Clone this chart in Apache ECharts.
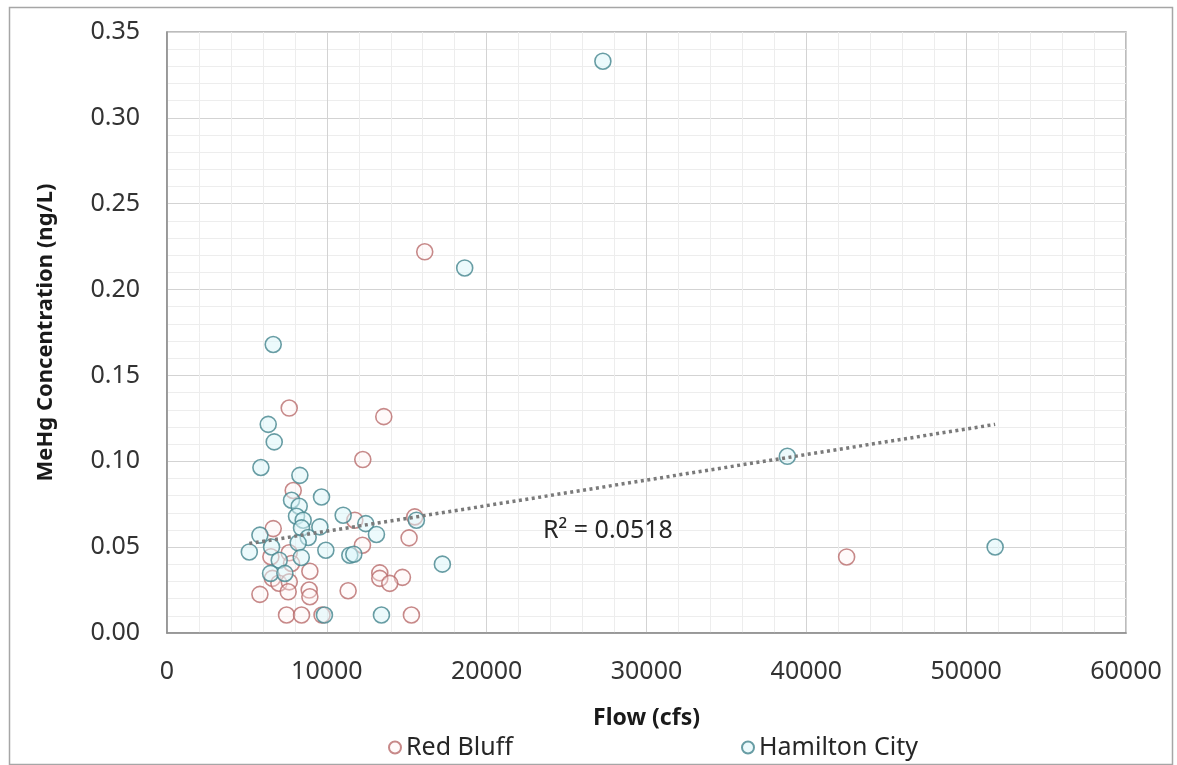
<!DOCTYPE html>
<html>
	<head>
		<meta charset="utf8"></meta>
		<script src="https://cdn.jsdelivr.net/npm/echarts@6/dist/echarts.min.js"></script>
		<title>MeHg vs Flow</title>
	</head>
	<style>
		* {
			margin: 0;
			padding: 0;
			box-sizing: border-box;
		}
		body {
			background: #fff;
		}
	</style>
	<body>
		<div id="chart" style="width:1177px;height:765px;"></div>
	</body>
	<script type="text/javascript">
		// Red Bluff samples (flow cfs, MeHg ng/L)
		var redFlow = [16125, 7646, 13563, 12250, 7896, 11750, 15500, 6646, 15146, 12229,
			7646, 6500, 42521, 7792, 8938, 13313, 13313, 14729, 13938, 6600,
			7000, 7650, 5813, 7583, 8896, 8938, 11333, 7479, 8417, 9700, 15292];
		var redMeHg = [0.222, 0.131, 0.126, 0.101, 0.083, 0.0657, 0.0676, 0.0608, 0.0554, 0.0511,
			0.0467, 0.0444, 0.0443, 0.0405, 0.036, 0.035, 0.0318, 0.0324, 0.0289, 0.0318,
			0.029, 0.0298, 0.0225, 0.024, 0.025, 0.0211, 0.0246, 0.0105, 0.0105, 0.0105, 0.0105];

		// Hamilton City samples
		var hamFlow = [27271, 18625, 6645, 6333, 6708, 38813, 5875, 8313, 9667, 7792,
			8271, 11021, 8104, 8521, 12438, 15604, 8417, 9563, 5813, 13104,
			8833, 8208, 6542, 51813, 5150, 9938, 11438, 11688, 8400, 7021,
			17229, 6479, 7375, 9850, 13417];
		var hamMeHg = [0.333, 0.2126, 0.168, 0.1215, 0.1113, 0.1029, 0.0964, 0.0918, 0.0792, 0.0773,
			0.0738, 0.0686, 0.068, 0.0657, 0.0637, 0.0657, 0.0612, 0.0618, 0.057, 0.0574,
			0.0556, 0.0525, 0.0501, 0.0501, 0.0472, 0.0482, 0.0453, 0.0459, 0.044, 0.0424,
			0.0401, 0.0347, 0.0347, 0.0105, 0.0105];

		// linear trendline end points
		var trendFlow = [5150, 51813];
		var trendMeHg = [0.0521, 0.1215];
		var trendLabel = 'R\u00b2 = 0.0518';

		var xMin = 0, xMax = 60000, xStep = 10000;
		var yMin = 0, yMax = 0.35, yStep = 0.05;

		function zip(a, b) {
			return a.map(function(v, i) { return [v, b[i]]; });
		}

		var font = '"Noto Sans", "Open Sans", sans-serif';
		var majorGrid = '#d3d3d3';
		var minorGrid = '#ededed';

		var option = {
			animation: false,
			backgroundColor: '#fff',
			textStyle: { fontFamily: font },
			grid: {
				left: 167,
				right: 51,
				top: 32,
				bottom: 132,
				show: true,
				borderColor: '#a6a6a6',
				borderWidth: 1.5
			},
			legend: [{
				left: 388,
				top: 735,
				padding: 0,
				itemWidth: 12,
				itemHeight: 12,
				textStyle: { fontSize: 25, color: '#262626', fontFamily: font },
				data: [{ name: 'Red Bluff', icon: 'circle' }]
			}, {
				left: 741,
				top: 735,
				padding: 0,
				itemWidth: 12,
				itemHeight: 12,
				textStyle: { fontSize: 25, color: '#262626', fontFamily: font },
				data: [{ name: 'Hamilton City', icon: 'circle' }]
			}],
			xAxis: {
				type: 'value',
				min: xMin,
				max: xMax,
				interval: xStep,
				name: 'Flow (cfs)',
				nameLocation: 'middle',
				nameGap: 74,
				nameTextStyle: { fontSize: 23, fontWeight: 'bold', color: '#1a1a1a', fontFamily: font },
				axisLine: { show: true, lineStyle: { color: '#8c8c8c', width: 1.5 } },
				axisTick: { show: false },
				axisLabel: {
					fontSize: 25,
					color: '#333',
					margin: 26,
					fontFamily: font,
					formatter: function(v) { return String(v); }
				},
				splitLine: { show: true, lineStyle: { color: majorGrid, width: 1 } },
				minorTick: { show: false, splitNumber: 5 },
				minorSplitLine: { show: true, lineStyle: { color: minorGrid, width: 1 } }
			},
			yAxis: {
				type: 'value',
				min: yMin,
				max: yMax,
				interval: yStep,
				name: 'MeHg Concentration (ng/L)',
				nameLocation: 'middle',
				nameGap: 110,
				nameTextStyle: { fontSize: 22, fontWeight: 'bold', color: '#1a1a1a', fontFamily: font },
				axisLine: { show: true, lineStyle: { color: '#8c8c8c', width: 1.5 } },
				axisTick: { show: false },
				axisLabel: {
					fontSize: 25,
					color: '#333',
					margin: 27,
					fontFamily: font,
					formatter: function(v) { return v.toFixed(2); }
				},
				splitLine: { show: true, lineStyle: { color: majorGrid, width: 1 } },
				minorTick: { show: false, splitNumber: 5 },
				minorSplitLine: { show: true, lineStyle: { color: minorGrid, width: 1 } }
			},
			graphic: [{
				type: 'rect',
				left: 7,
				top: 5,
				shape: { width: 1163, height: 757 },
				style: { fill: 'none', stroke: '#a6a6a6', lineWidth: 1.5 },
				silent: true,
				z: -10
			}, {
				type: 'text',
				left: 543,
				top: 518,
				style: { text: trendLabel, fontSize: 25, fill: '#262626', fontFamily: font },
				z: 10
			}],
			series: [{
				name: 'Red Bluff',
				type: 'scatter',
				symbol: 'circle',
				symbolSize: 16,
				itemStyle: {
					color: 'rgba(255, 240, 240, 0.45)',
					borderColor: '#b96b6b',
					borderWidth: 1.6
				},
				data: zip(redFlow, redMeHg),
				z: 2
			}, {
				name: 'Hamilton City',
				type: 'scatter',
				symbol: 'circle',
				symbolSize: 16,
				itemStyle: {
					color: 'rgba(218, 246, 250, 0.65)',
					borderColor: '#44848d',
					borderWidth: 1.6
				},
				data: zip(hamFlow, hamMeHg),
				z: 3
			}, {
				name: 'trend',
				type: 'line',
				showSymbol: false,
				symbol: 'none',
				silent: true,
				lineStyle: { color: '#7a7a7a', width: 3.5, type: [3, 3.5] },
				data: zip(trendFlow, trendMeHg),
				z: 4
			}]
		};

		var chart = echarts.init(document.getElementById('chart'));
		chart.setOption(option);
	</script>
</html>
